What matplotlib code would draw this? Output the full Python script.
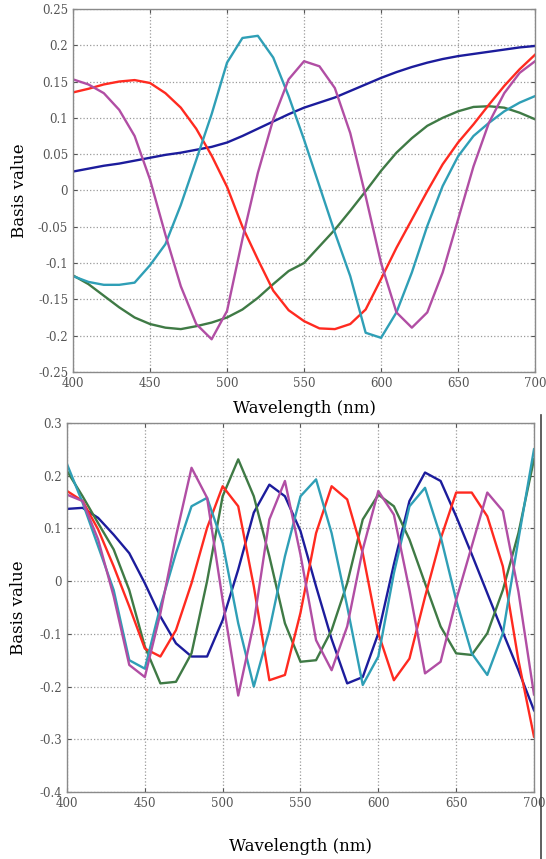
import matplotlib
matplotlib.use("Agg")
import matplotlib.pyplot as plt
from matplotlib.lines import Line2D
from matplotlib.ticker import FuncFormatter, MultipleLocator
import numpy as np

# wavelengths sampled every 10 nm
wavelength = np.arange(400, 701, 10)

# top panel: first five basis functions
top_blue = [0.026, 0.030, 0.034, 0.037, 0.041, 0.045, 0.049, 0.052, 0.056, 0.060, 0.066,
            0.075, 0.085, 0.095, 0.105, 0.114, 0.121, 0.128, 0.137, 0.146, 0.155,
            0.163, 0.170, 0.176, 0.181, 0.185, 0.188, 0.191, 0.194, 0.197, 0.199]
top_red = [0.135, 0.140, 0.146, 0.150, 0.152, 0.148, 0.134, 0.114, 0.085, 0.048, 0.005,
           -0.050, -0.095, -0.138, -0.165, -0.180, -0.190, -0.191, -0.184, -0.164, -0.122,
           -0.079, -0.040, -0.001, 0.036, 0.066, 0.091, 0.118, 0.144, 0.167, 0.187]
top_green = [-0.117, -0.129, -0.145, -0.161, -0.175, -0.184, -0.189, -0.191, -0.187, -0.182, -0.175,
             -0.164, -0.148, -0.129, -0.111, -0.100, -0.077, -0.054, -0.028, -0.001, 0.027,
             0.052, 0.072, 0.089, 0.100, 0.109, 0.115, 0.116, 0.114, 0.107, 0.098]
top_cyan = [-0.118, -0.126, -0.130, -0.130, -0.127, -0.103, -0.074, -0.020, 0.042, 0.105, 0.176,
            0.210, 0.213, 0.183, 0.130, 0.070, 0.006, -0.058, -0.118, -0.196, -0.203,
            -0.168, -0.113, -0.049, 0.006, 0.047, 0.075, 0.093, 0.109, 0.121, 0.130]
top_magenta = [0.153, 0.146, 0.134, 0.111, 0.075, 0.015, -0.061, -0.132, -0.184, -0.205, -0.166,
               -0.067, 0.024, 0.098, 0.153, 0.178, 0.171, 0.141, 0.079, -0.008, -0.100,
               -0.168, -0.189, -0.168, -0.113, -0.040, 0.033, 0.093, 0.134, 0.162, 0.178]

# bottom panel: next five basis functions
bot_blue = [0.137, 0.139, 0.120, 0.088, 0.053, -0.004, -0.067, -0.118, -0.143, -0.143, -0.074,
            0.022, 0.130, 0.183, 0.161, 0.095, -0.010, -0.110, -0.194, -0.182, -0.099,
            0.032, 0.152, 0.206, 0.190, 0.123, 0.051, -0.023, -0.097, -0.169, -0.245]
bot_red = [0.171, 0.152, 0.098, 0.028, -0.048, -0.128, -0.143, -0.093, -0.004, 0.101, 0.180,
           0.142, -0.010, -0.188, -0.178, -0.060, 0.091, 0.180, 0.155, 0.053, -0.099,
           -0.188, -0.147, -0.030, 0.080, 0.168, 0.168, 0.123, 0.028, -0.150, -0.295]
bot_green = [0.209, 0.161, 0.110, 0.060, -0.017, -0.124, -0.194, -0.191, -0.137, 0.000, 0.161,
             0.231, 0.161, 0.047, -0.080, -0.153, -0.150, -0.093, -0.004, 0.117, 0.164,
             0.142, 0.079, -0.004, -0.086, -0.137, -0.140, -0.099, -0.017, 0.091, 0.231]
bot_cyan = [0.222, 0.149, 0.066, -0.017, -0.150, -0.166, -0.048, 0.053, 0.142, 0.158, 0.072,
            -0.080, -0.200, -0.093, 0.047, 0.161, 0.193, 0.091, -0.048, -0.197, -0.143,
            0.015, 0.142, 0.177, 0.085, -0.036, -0.137, -0.178, -0.099, 0.079, 0.250]
bot_magenta = [0.164, 0.152, 0.079, -0.029, -0.159, -0.182, -0.061, 0.085, 0.215, 0.158, -0.036,
               -0.217, -0.080, 0.117, 0.190, 0.050, -0.112, -0.169, -0.086, 0.060, 0.171,
               0.126, -0.017, -0.175, -0.153, -0.036, 0.066, 0.168, 0.133, -0.020, -0.215]

colors = {
    "blue": "#1c1c9c",
    "red": "#ff2a20",
    "green": "#3f7a45",
    "cyan": "#2f9fb6",
    "magenta": "#b14ea4",
}

plt.rcParams["font.family"] = ["DejaVu Serif"]


def tick_fmt(v, pos):
    s = f"{round(v, 6):g}"
    if s == "-0":
        s = "0"
    return s


def style_axes(ax, ylim, ystep):
    ax.set_xlim(400, 700)
    ax.set_ylim(*ylim)
    ax.xaxis.set_major_locator(MultipleLocator(50))
    ax.yaxis.set_major_locator(MultipleLocator(ystep))
    ax.yaxis.set_major_formatter(FuncFormatter(tick_fmt))
    ax.grid(True, linestyle=":", color="#9a9a9a", linewidth=0.9)
    ax.tick_params(direction="in", length=3, labelsize=8.5, colors="#555555",
                   top=True, right=True)
    for sp in ax.spines.values():
        sp.set_color("#8a8a8a")
        sp.set_linewidth(1.0)


def plot_panel(ax, blue, green, red, cyan, magenta):
    ax.plot(wavelength, blue, color=colors["blue"], lw=1.7)
    ax.plot(wavelength, green, color=colors["green"], lw=1.7)
    ax.plot(wavelength, red, color=colors["red"], lw=1.7)
    ax.plot(wavelength, cyan, color=colors["cyan"], lw=1.7)
    ax.plot(wavelength, magenta, color=colors["magenta"], lw=1.7)


fig = plt.figure(figsize=(5.46, 8.59), dpi=100)

ax1 = fig.add_axes([0.1337, 0.567, 0.8463, 0.4226])
plot_panel(ax1, top_blue, top_green, top_red, top_cyan, top_magenta)
style_axes(ax1, (-0.25, 0.25), 0.05)
ax1.set_xlabel("Wavelength (nm)", fontsize=12)
ax1.set_ylabel("Basis value", fontsize=12)
ax1.xaxis.set_label_coords(0.5, -0.077)
ax1.yaxis.set_label_coords(-0.098, 0.5)

ax2 = fig.add_axes([0.1227, 0.078, 0.8553, 0.4296])
plot_panel(ax2, bot_blue, bot_green, bot_red, bot_cyan, bot_magenta)
style_axes(ax2, (-0.4, 0.3), 0.1)
ax2.set_xlabel("Wavelength (nm)", fontsize=12)
ax2.set_ylabel("Basis value", fontsize=12)
ax2.xaxis.set_label_coords(0.5, -0.124)
ax2.yaxis.set_label_coords(-0.086, 0.5)

# dark scan edge along the right side of the lower panel
fig.add_artist(Line2D([541 / 546, 541 / 546], [0, 1 - 415 / 859],
                      transform=fig.transFigure, color="#444444", lw=1.2))

fig.savefig("out.png", dpi=100)
